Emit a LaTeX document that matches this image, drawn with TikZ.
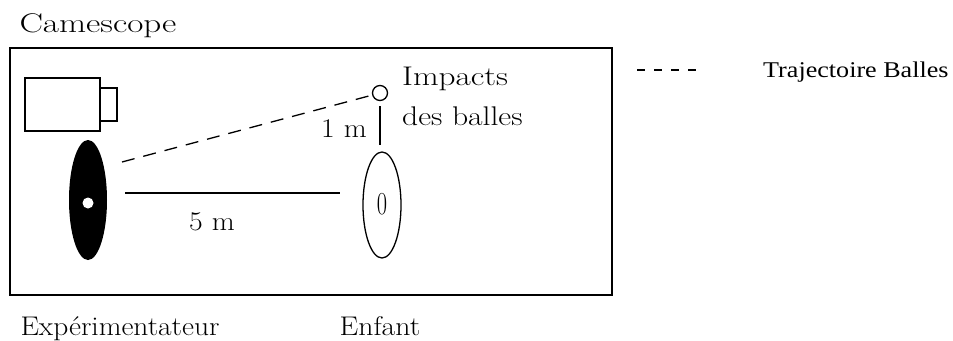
\documentclass[tikz,border=0pt]{standalone}
\usepackage{fontspec}
\usetikzlibrary{shapes.geometric}
\newfontfamily\timesfont{Liberation Serif}
\newcommand{\sw}[2]{\scalebox{#1}[1]{#2}}
\begin{document}
\begin{tikzpicture}[x=1pt,y=-1pt,
  lbl/.style={inner sep=0pt,anchor=base,font=\fontsize{27}{40}\selectfont},
  thin/.style={line width=1.3pt}]
\useasboundingbox (0,0) rectangle (953,340);
\node[lbl] (cam) at (98,32) {\sw{1.3}{Camescope}};
\draw[line width=1.8pt] (10,48) rectangle (612,295);
% camera
\draw[thin] (25,78) rectangle (100,131);
\draw[thin] (100,88) rectangle (117,121);
% experimenter
\fill (88,200) ellipse (19 and 60);
\fill[white] (88,203) circle (5.5);
% child
\node[draw,thin,ellipse,minimum width=38,minimum height=106,inner sep=0pt] (enf) at (382,205) {};
\node[inner sep=0pt,font=\fontsize{32}{34}\selectfont] (zero) at (382,204) {\sw{0.7}{0}};
% impact
\node[draw,thin,circle,minimum size=15,inner sep=0pt] (imp) at (380,93) {};
\coordinate (d0) at (122,162);
\draw[thin,dash pattern=on 13pt off 9pt] (d0) -- (imp);
\coordinate (v1) at (380,106);
\coordinate (v2) at (380,145);
\draw[thin] (v1) -- (v2);
\node[lbl] (onem) at (344,137) {\sw{1.1}{1 m}};
\coordinate (h1) at (125,193);
\coordinate (h2) at (340,193);
\draw[thin] (h1) -- (h2);
\node[lbl] (fivem) at (212,230) {\sw{1.1}{5 m}};
\node[lbl,anchor=base west] (imptxt1) at (402,85) {\sw{1.23}{Impacts}};
\node[lbl,anchor=base west] (imptxt2) at (402,125) {\sw{1.17}{des balles}};
\node[lbl] (exp) at (120,335) {\sw{1.09}{Expérimentateur}};
\node[lbl] (enftxt) at (380,335) {\sw{1.1}{Enfant}};
% legend
\coordinate (l1) at (637,70);
\coordinate (l2) at (697,70);
\draw[thin,dash pattern=on 8pt off 9pt] (l1) -- (l2);
\node[inner sep=0pt,anchor=base west,font=\timesfont\fontsize{22.5}{26}\selectfont] (leg) at (763,77) {\sw{1.16}{Trajectoire Balles}};
\end{tikzpicture}
\end{document}
